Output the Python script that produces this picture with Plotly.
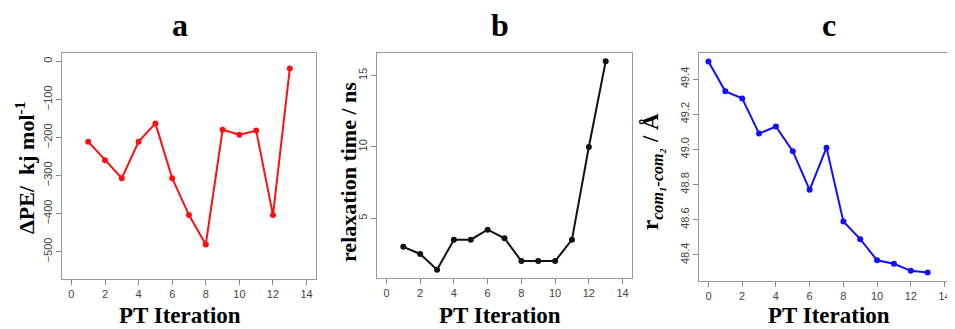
import plotly.graph_objects as go

# Data
iter_a = list(range(1, 14))
dpe = [-211, -260, -307, -211, -163, -307, -404, -481, -180, -193, -182, -404, -19]

iter_b = list(range(1, 14))
relax = [3.0, 2.5, 1.4, 3.5, 3.5, 4.2, 3.6, 2.0, 2.0, 2.0, 3.5, 10.0, 16.0]

iter_c = list(range(0, 14))
rcom = [49.50, 49.33, 49.29, 49.09, 49.13, 48.99, 48.77, 49.01, 48.59, 48.49, 48.37, 48.35, 48.31, 48.30]

x_ticks = [0, 2, 4, 6, 8, 10, 12, 14]

# page body has an 8px default margin; lay out in window pixels and shift
OFF = 8
W, H = 955 - OFF, 329 - OFF

def fx(x):
    return (x - OFF) / W

def fy(y):
    return (H - (y - OFF)) / H

def px_x(a, b):
    return [fx(a), min(fx(b), 1.0)]

def px_y(top, bottom):
    return [fy(bottom), fy(top)]

fig = go.Figure()
fig.add_trace(go.Scatter(x=iter_a, y=dpe, mode="lines+markers",
                         line=dict(color="#ff1010", width=2), marker=dict(size=6, color="#ff1010"),
                         xaxis="x", yaxis="y", showlegend=False))
fig.add_trace(go.Scatter(x=iter_b, y=relax, mode="lines+markers",
                         line=dict(color="#111111", width=2), marker=dict(size=6, color="#111111"),
                         xaxis="x2", yaxis="y2", showlegend=False))
fig.add_trace(go.Scatter(x=iter_c, y=rcom, mode="lines+markers",
                         line=dict(color="#1010ff", width=2), marker=dict(size=6, color="#1010ff"),
                         xaxis="x3", yaxis="y3", showlegend=False))

tickfont = dict(family="Liberation Sans, Arial", size=11, color="#444444")
axcommon = dict(showline=True, mirror=True, linecolor="#999999", linewidth=1,
                ticks="outside", ticklen=5, tickcolor="#888888", showgrid=False,
                zeroline=False, tickfont=tickfont)

xcommon = dict(axcommon, range=[-0.56, 14.56], tickvals=x_ticks)

fig.update_layout(
    width=W, height=H,
    margin=dict(l=0, r=0, t=0, b=0),
    plot_bgcolor="white", paper_bgcolor="white",
    xaxis=dict(xcommon, domain=px_x(62, 316), anchor="y"),
    yaxis=dict(axcommon, domain=px_y(53, 279), anchor="x", range=[-572, 22],
               tickvals=[0, -100, -200, -300, -400, -500], tickangle=-90),
    xaxis2=dict(xcommon, domain=px_x(377, 632), anchor="y2"),
    yaxis2=dict(axcommon, domain=px_y(53, 278), anchor="x2", range=[0.816, 16.584],
                tickvals=[5, 10, 15], tickangle=-90),
    xaxis3=dict(xcommon, domain=px_x(699, 954), anchor="y3"),
    yaxis3=dict(axcommon, domain=px_y(53, 281), anchor="x3", range=[48.252, 49.548],
                tickvals=[48.4, 48.6, 48.8, 49.0, 49.2, 49.4], ticktext=["48.4", "48.6", "48.8", "49.0", "49.2", "49.4"],
                tickangle=-90),
)

serif = "Liberation Serif, Times New Roman, serif"
ann = []
for txt, xc in [("a", 180), ("b", 500), ("c", 829)]:
    ann.append(dict(text="<b>%s</b>" % txt, x=fx(xc), y=fy(25), xref="paper", yref="paper",
                    showarrow=False, font=dict(family=serif, size=32, color="black"),
                    xanchor="center", yanchor="middle", borderpad=0))
for xc in [180, 500, 829]:
    ann.append(dict(text="<b>PT Iteration</b>", x=fx(xc), y=fy(315), xref="paper", yref="paper",
                    showarrow=False, font=dict(family=serif, size=23, color="black"),
                    xanchor="center", yanchor="middle", borderpad=0))
ylabels = [
    ("<b>ΔPE/  kj mol<sup>-1</sup></b>", 25, 168, 22),
    ("<b>relaxation time / ns</b>", 348, 172, 22),
    ("<b>r<sub><i>com₁-com₂</i></sub> / Å</b>", 652, 172, 23),
]
for txt, xc, yc, sz in ylabels:
    ann.append(dict(text=txt, x=fx(xc), y=fy(yc), xref="paper", yref="paper",
                    showarrow=False, textangle=-90, font=dict(family=serif, size=sz, color="black"),
                    xanchor="center", yanchor="middle"))
fig.update_layout(annotations=ann)

fig.write_html("out.html")
